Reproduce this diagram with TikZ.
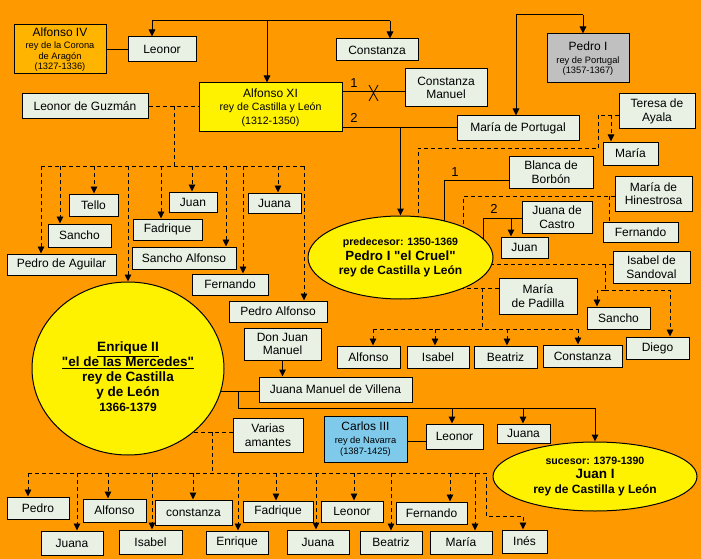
\documentclass[tikz,border=0pt]{standalone}
\usepackage{fontspec}
\setmainfont{Liberation Sans}
\usetikzlibrary{arrows.meta,shapes.geometric}
\definecolor{bgor}{HTML}{FF9900}
\definecolor{boxf}{HTML}{E8F1E4}
\definecolor{goldb}{HTML}{FFB400}
\definecolor{grayb}{HTML}{C0C0C0}
\definecolor{blueb}{HTML}{7FCAEB}
\pgfdeclarelayer{back}\pgfdeclarelayer{lines}\pgfsetlayers{back,lines,main}
\newcommand\fbx[7][box]{\node[#1,minimum width={#5-#3},minimum height={#6-#4}] (#2) at ({(#3+#5)/2},{(#4+#6)/2}) {#7};}
\newcommand\smf{\fontsize{9.3}{10.5}\selectfont}
\newcommand\mdf{\fontsize{10.6}{12.5}\selectfont}
\newcommand\qd{\textquotedbl}
\tikzset{
 box/.style={draw=black,line width=1pt,fill=boxf,inner sep=0pt,align=center,font=\fontsize{12}{13.5}\selectfont},
 boxA/.style={box,fill=goldb},
 boxG/.style={box,fill=grayb},
 boxB/.style={box,fill=blueb},
 boxY/.style={box,fill=yellow},
 ln/.style={line width=1pt},
 da/.style={line width=0.95pt,dash pattern=on 4pt off 3pt},
 tip/.style={-{Triangle[length=7pt,width=6.5pt]}},
 oval/.style={ellipse,draw=black,line width=1pt,fill=yellow,inner sep=0pt,align=center},
 num/.style={inner sep=0pt,font=\fontsize{13}{14}\selectfont}
}
\begin{document}
\begin{tikzpicture}[x=1pt,y=-1pt]
\useasboundingbox (0,0) rectangle (701,559);
\begin{pgfonlayer}{back}
\fill[bgor] (0,0) rectangle (701,559);
\end{pgfonlayer}
% top generation
\fbx[boxA]{alfiv}{14}{25}{106}{74}{Alfonso IV\\[-1pt]\smf rey de la Corona\\[-3pt]\smf de Aragón\\[-3pt]\smf (1327-1336)}
\fbx{leoA}{128}{37}{196}{62}{Leonor}
\fbx{consA}{336}{39}{418}{61}{Constanza}
\fbx[boxY]{alfxi}{199}{83}{342}{132}{Alfonso XI\\\mdf rey de Castilla y León\\\mdf (1312-1350)}
\fbx{guzman}{22}{94}{148}{119}{Leonor de Guzmán}
\fbx{cman}{405}{69}{487}{107}{Constanza\\Manuel}
\fbx{mport}{457}{116}{579}{140}{María de Portugal}
\fbx[boxG]{ppor}{547}{34}{629}{83}{Pedro I\\[-0.5pt]\smf rey de Portugal\\[-3pt]\smf (1357-1367)}
% Pedro I el Cruel family
\fbx{teresa}{619}{94}{695}{129}{Teresa de\\Ayala}
\fbx{mariaT}{603}{142}{658}{165}{María}
\fbx{blanca}{509}{156}{593}{188}{Blanca de\\Borbón}
\fbx{hine}{615}{176}{692}{211}{María de\\Hinestrosa}
\fbx{fernR}{603}{222}{678}{242}{Fernando}
\fbx{jcastro}{522}{201}{592}{233}{Juana de\\Castro}
\fbx{juanR}{501}{237}{548}{258}{Juan}
\fbx{sandoval}{613}{251}{690}{283}{Isabel de\\Sandoval}
\fbx{sanchoR}{587}{307}{650}{329}{Sancho}
\fbx{diego}{626}{337}{689}{359}{Diego}
\fbx{padilla}{499}{278}{577}{314}{María\\de Padilla}
\fbx{alfP}{337}{346}{400}{368}{Alfonso}
\fbx{isaP}{407}{346}{469}{368}{Isabel}
\fbx{beaP}{474}{346}{537}{368}{Beatriz}
\fbx{conP}{543}{345}{622}{367}{Constanza}
\node[oval,minimum width=185,minimum height=83,font=\bfseries\fontsize{12}{14.5}\selectfont] (pedro) at (400.5,257.5) {\fontsize{10.6}{14.5}\selectfont predecesor: 1350-1369\\\fontsize{13.3}{14.5}\selectfont Pedro I \qd el Cruel\qd\\\fontsize{12}{14.5}\selectfont rey de Castilla y León};
% children of Alfonso XI and Leonor de Guzman
\fbx{aguilar}{7}{254}{116}{275}{Pedro de Aguilar}
\fbx{sanchoL}{48}{224}{111}{247}{Sancho}
\fbx{tello}{69}{194}{118}{216}{Tello}
\fbx{fadrique}{133}{219}{202}{240}{Fadrique}
\fbx{juanL}{169}{192}{217}{212}{Juan}
\fbx{salfonso}{132}{247}{236}{269}{Sancho Alfonso}
\fbx{fernL}{192}{274}{268}{295}{Fernando}
\fbx{juanaL}{248}{193}{301}{213}{Juana}
\fbx{palfonso}{229}{301}{327}{322}{Pedro Alfonso}
\node[oval,minimum width=192,minimum height=173] (enrique) at (128,368.5) {};
\node[inner sep=0pt,align=center,font=\bfseries\fontsize{13.5}{15}\selectfont] (enriquet) at (128,377) {\underline{Enrique II}\\\underline{\qd el de las Mercedes\qd}\\rey de Castilla\\y de León\\\fontsize{12}{15}\selectfont 1366-1379};
\fbx{djm}{244}{328}{321}{360}{Don Juan\\Manuel}
\fbx{jmanuel}{259}{377}{412}{402}{Juana Manuel de Villena}
\fbx[boxB]{carlos}{324}{416}{407}{462}{Carlos III\\[0pt]\smf rey de Navarra\\[-3pt]\smf (1387-1425)}
\fbx{leonorB}{426}{424}{483}{449}{Leonor}
\fbx{juanaB}{497}{424}{550}{443}{Juana}
\node[oval,minimum width=204,minimum height=69,font=\bfseries\fontsize{12}{14.5}\selectfont] (juanI) at (595,476.5) {\fontsize{10.6}{14.5}\selectfont sucesor: 1379-1390\\\fontsize{13.5}{14.5}\selectfont Juan I\\\fontsize{12}{14.5}\selectfont rey de Castilla y León};
\fbx{varias}{233}{418}{303}{452}{Varias\\amantes}
% bottom children
\fbx{pedroB}{7}{497}{69}{519}{Pedro}
\fbx{juanaBa}{41}{531}{103}{555}{Juana}
\fbx{alfonsoB}{83}{499}{146}{522}{Alfonso}
\fbx{isabelB}{119}{530}{182}{554}{Isabel}
\fbx{constanzaB}{155}{500}{232}{525}{constanza}
\fbx{enriqueB}{206}{531}{268}{554}{Enrique}
\fbx{fadriqueB}{243}{501}{313}{522}{Fadrique}
\fbx{juanaBb}{287}{530}{349}{554}{Juana}
\fbx{leonorBb}{321}{501}{383}{522}{Leonor}
\fbx{beatrizB}{360}{531}{422}{554}{Beatriz}
\fbx{fernandoB}{396}{502}{467}{524}{Fernando}
\fbx{mariaB}{430}{531}{492}{554}{María}
\fbx{ines}{502}{530}{547}{553}{Inés}
% number labels
\node[num] (n1a) at (354,83) {1};
\node[num] (n2a) at (354,118) {2};
\node[num] (n1b) at (455,172) {1};
\node[num] (n2b) at (494,209) {2};
\begin{pgfonlayer}{lines}
% top
\draw[ln] (152,21) -- (390,21);
\draw[ln,tip] (152,21) -- (152,0 |- leoA.north);
\draw[ln,tip] (390,21) -- (390,0 |- consA.north);
\draw[ln,tip] (267,21) -- (267,0 |- alfxi.north);
\draw[ln] (alfiv) -- (leoA);
\draw[ln] (alfxi.east |- 0,92) -- (cman.west |- 0,92);
\draw[line width=0.8pt] (369,85) -- (378,101) (378,85) -- (369,101);
\draw[ln] (alfxi.east |- 0,128) -- (mport.west |- 0,128);
\draw[ln,tip] (pedro.north |- 0,128) -- (pedro.north);
\draw[ln,tip] (583,15) -- (583,0 |- ppor.north);
\draw[ln,tip] (583,15) -- (516,15) -- (516,0 |- mport.north);
% Pedro's partners
\draw[da] (teresa.west |- 0,115) -- (598,115) -- (598,148) -- (418,148) -- (418,235);
\draw[da,tip] (611,115) -- (611,0 |- mariaT.north);
\draw[ln] (blanca.west |- 0,180) -- (444,180) -- (444,240);
\draw[da] (hine.west |- 0,196) -- (463,196) -- (463,245);
\draw[da] (609,196) -- (609,0 |- fernR.north);
\draw[ln] (jcastro.west |- 0,218) -- (483,218) -- (483,250);
\draw[ln,tip] (511,218) -- (511,0 |- juanR.north);
\draw[da] (sandoval.west |- 0,264) -- (450,264);
\draw[da] (605,264) -- (605,290);
\draw[da,tip] (605,290) -- (597,290) -- (597,0 |- sanchoR.north);
\draw[da,tip] (605,290) -- (670,290) -- (670,0 |- diego.north);
\draw[da] (padilla.west |- 0,288) -- (450,288);
\draw[da] (482,288) -- (482,329);
\draw[da] (373,329) -- (578,329);
\foreach \x/\n in {373/alfP,435/isaP,507/beaP,578/conP}
  \draw[da,tip] (\x,329) -- (\x,0 |- \n.north);
% Alfonso XI and Leonor de Guzman
\draw[da] (guzman.east |- 0,106) -- (alfxi.west |- 0,106);
\draw[da] (174,106) -- (174,166);
\draw[da] (41,166) -- (304,166);
\foreach \x/\n in {41/aguilar,60/sanchoL,94/tello,128/enrique,161/fadrique,192/juanL,226/salfonso,243/fernL,278/juanaL,304/palfonso}
  \draw[da,tip] (\x,166) -- (\x,0 |- \n.north);
% Enrique II and Juana Manuel
\draw[ln] (200,391) -- (jmanuel.west |- 0,391);
\draw[ln,tip] (djm.south) -- (djm.south |- jmanuel.north);
\draw[ln] (238,391) -- (238,408) -- (595,408);
\draw[ln,tip] (452,408) -- (452,0 |- leonorB.north);
\draw[ln,tip] (523,408) -- (523,0 |- juanaB.north);
\draw[ln,tip] (595,408) -- (juanI.north);
\draw[ln] (carlos.east |- 0,441) -- (leonorB.west |- 0,441);
% Enrique II and Varias amantes
\draw[da] (varias.west |- 0,432) -- (180,432);
\draw[da] (212,432) -- (212,473);
\draw[da,tip] (28,473) -- (486,473) -- (486,516) -- (523,516) -- (523,0 |- ines.north);
\foreach \x/\n in {28/pedroB,77/juanaBa,108/alfonsoB,152/isabelB,193/constanzaB,238/enriqueB,276/fadriqueB,316/juanaBb,354/leonorBb,391/beatrizB,450/fernandoB,475/mariaB}
  \draw[da,tip] (\x,473) -- (\x,0 |- \n.north);
\end{pgfonlayer}
\end{tikzpicture}
\end{document}
